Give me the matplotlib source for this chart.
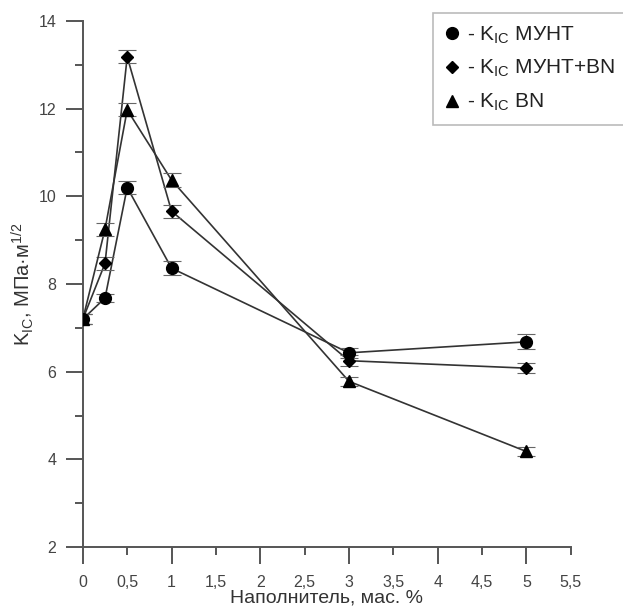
import numpy as np
import matplotlib.pyplot as plt
from matplotlib.ticker import MultipleLocator, FuncFormatter

plt.rcParams['font.family'] = ['Liberation Sans', 'DejaVu Sans']
plt.rcParams['mathtext.fontset'] = 'custom'
plt.rcParams['mathtext.rm'] = 'Liberation Sans'
plt.rcParams['mathtext.it'] = 'Liberation Sans'

x = [0, 0.25, 0.5, 1, 3, 5]
k_munt = [7.2, 7.68, 10.2, 8.36, 6.43, 6.68]
k_munt_bn = [7.2, 8.47, 13.18, 9.66, 6.25, 6.08]
k_bn = [7.2, 9.25, 11.97, 10.37, 5.78, 4.18]
err_munt = [0.12, 0.1, 0.15, 0.16, 0.12, 0.17]
err_munt_bn = [0.12, 0.15, 0.15, 0.15, 0.12, 0.12]
err_bn = [0.12, 0.15, 0.15, 0.15, 0.1, 0.1]

labels = ['- K$_{\\mathrm{IC}}$ МУНТ', '- K$_{\\mathrm{IC}}$ МУНТ+BN', '- K$_{\\mathrm{IC}}$ BN']

fig = plt.figure(figsize=(6.23, 6.14), dpi=100)
ax = fig.add_axes([0.133, 0.109, 0.783, 0.857])

line_c = '#333333'
series = [(k_munt, err_munt, 'o', 8.5), (k_munt_bn, err_munt_bn, 'D', 6.5), (k_bn, err_bn, '^', 8)]
handles = []
for (y, e, m, ms) in series:
    ax.plot(x, y, color=line_c, lw=1.2, zorder=2)
    ax.errorbar(x, y, yerr=e, fmt='none', ecolor='#666666', elinewidth=0.8, capsize=6.5, capthick=0.8, zorder=2)
    h, = ax.plot(x, y, ls='none', marker=m, ms=ms, color='black', zorder=3)
    handles.append(h)

ax.set_xlim(0, 5.5)
ax.set_ylim(2, 14)
ax.xaxis.set_major_locator(MultipleLocator(1))
ax.xaxis.set_minor_locator(MultipleLocator(0.5))
fmt = FuncFormatter(lambda v, p: ('%g' % v).replace('.', ','))
ax.xaxis.set_major_formatter(fmt)
ax.xaxis.set_minor_formatter(fmt)
ax.yaxis.set_major_locator(MultipleLocator(2))
ax.yaxis.set_minor_locator(MultipleLocator(1))

for s in ['top', 'right']:
    ax.spines[s].set_visible(False)
for s in ['left', 'bottom']:
    ax.spines[s].set_color('#555555')
    ax.spines[s].set_linewidth(1.4)

tc = '#444444'
ax.tick_params(axis='both', which='major', direction='out', length=12.5, width=1.4, color='#555555',
               labelsize=11.5, labelcolor=tc)
ax.tick_params(axis='both', which='minor', direction='out', length=6, width=1.4, color='#555555',
               labelsize=11.5, labelcolor=tc)
ax.tick_params(axis='y', which='major', pad=6.5)
ax.tick_params(axis='x', which='major', pad=7.5)
ax.tick_params(axis='x', which='minor', pad=14)

ax.set_xlabel('Наполнитель, мас. %', fontsize=14, color='#333333', labelpad=0)
ax.set_ylabel('K$_{\\mathrm{IC}}$, МПа·м$^{1/2}$', fontsize=14.5, color='#333333', labelpad=2)

leg = fig.legend(handles, labels, loc='upper left', bbox_to_anchor=(0.695, 0.979), fontsize=15,
                 frameon=True, fancybox=False, handlelength=0.7, handletextpad=0.4,
                 borderpad=0.55, labelspacing=0.6, borderaxespad=0, labelcolor='#222222',
                 markerscale=1.0)
leg.get_frame().set_edgecolor('#aaaaaa')
leg.get_frame().set_linewidth(1.2)

fig.savefig('out.png', dpi=100)
